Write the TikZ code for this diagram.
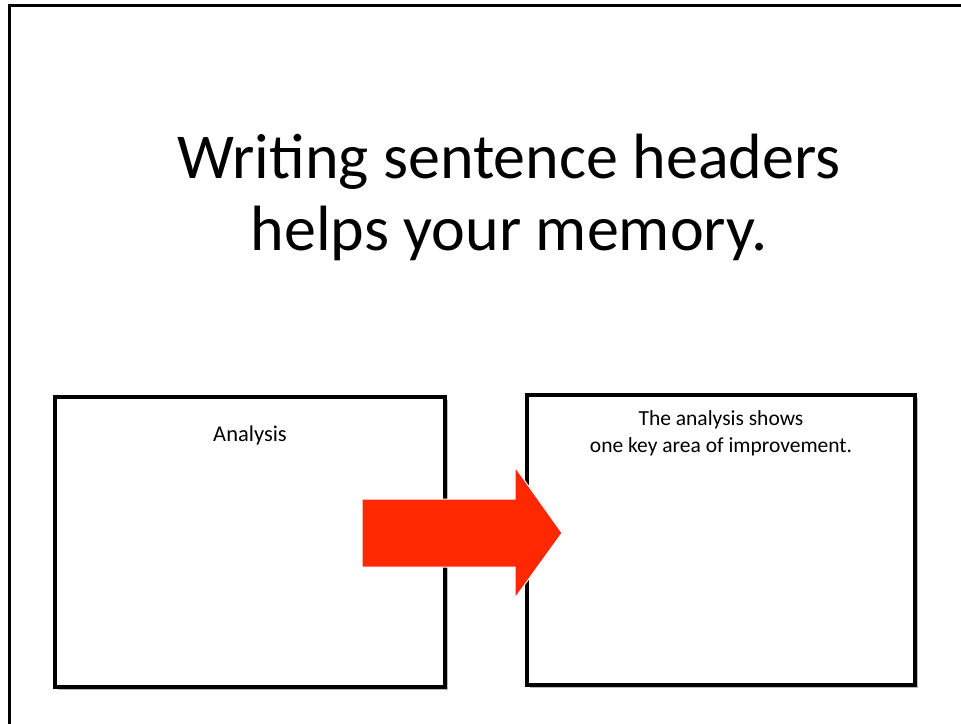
\documentclass[tikz,border=0pt]{standalone}
\usepackage{fontspec}
\setmainfont{Carlito}
\usetikzlibrary{shadows}
\definecolor{arrowred}{RGB}{255,40,0}
\tikzset{
  slidebox/.style={draw=black, line width=4pt, fill=white, inner sep=0pt,
    drop shadow={shadow xshift=3pt, shadow yshift=-3pt, fill=black!45, opacity=0.6}},
  boxtext/.style={align=center, inner sep=0pt, anchor=base},
  bigarrow/.style={fill=arrowred, draw=white, line width=1pt}
}
\begin{document}
\begin{tikzpicture}[x=1pt,y=-1pt]
\useasboundingbox (0,0) rectangle (961,723);
\fill[white] (0,0) rectangle (961,723);
% slide frame (left and top edges)
\draw[line width=3pt, black] (9,730) -- (9,5.5) -- (970,5.5);
% title (base anchor = baseline of last line)
\node[font=\fontsize{64}{72}\selectfont, align=center, inner sep=0pt, anchor=base] (title) at (509,250)
  {Writing sentence headers\\helps your memory.};
% boxes
\node[slidebox, minimum width=390pt, minimum height=290pt] (left) at (250,542) {};
\node[slidebox, minimum width=388pt, minimum height=290pt] (right) at (721,540) {};
\node[boxtext, font=\fontsize{22.5}{27}\selectfont] (lefttext) at (250,441) {Analysis};
\node[boxtext, font=\fontsize{21.5}{27}\selectfont] (righttext) at (721,452) {The analysis shows\\one key area of improvement.};
% arrow
\coordinate (atail) at (362,533);
\coordinate (atip) at (562,533);
\fill[bigarrow] (362,499) -- (515,499) -- (515,467) -- (atip) -- (515,598) -- (515,567) -- (362,567) -- cycle;
\end{tikzpicture}
\end{document}
